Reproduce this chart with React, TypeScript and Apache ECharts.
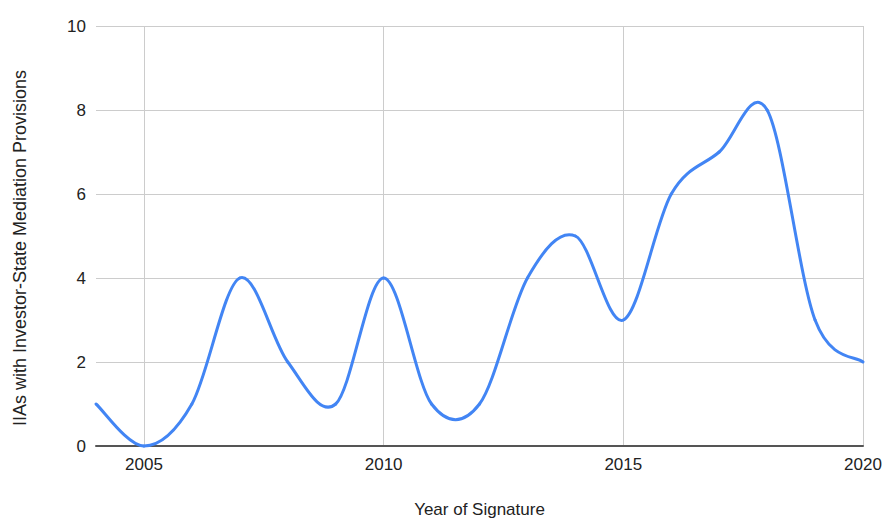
import React, { useEffect, useRef } from "react";
import * as echarts from "echarts";

const years = [2004, 2005, 2006, 2007, 2008, 2009, 2010, 2011, 2012, 2013, 2014, 2015, 2016, 2017, 2018, 2019, 2020];
const counts = [1, 0, 1, 4, 2, 1, 4, 1, 1, 4, 5, 3, 6, 7, 8, 3, 2];
const xTicks = [2005, 2010, 2015, 2020];
const xName = "Year of Signature";
const yName = "IIAs with Investor-State Mediation Provisions";

export default function App() {
  const ref = useRef<HTMLDivElement>(null);
  useEffect(() => {
    const chart = echarts.init(ref.current!, null, { renderer: "svg" });
    const font = "'Liberation Sans', Arial, sans-serif";
    const pts = years.map((y, i) => [y, counts[i]]);
    const n = pts.length;
    chart.setOption({
      animation: false,
      textStyle: { fontFamily: font },
      grid: { left: 96, right: 22, top: 26, bottom: 69, containLabel: false },
      graphic: [
        {
          type: "text",
          x: 20,
          y: 248,
          rotation: Math.PI / 2,
          style: {
            text: yName,
            fill: "#222",
            fontSize: 18,
            fontFamily: font,
            textAlign: "center",
            textVerticalAlign: "middle",
          },
        },
      ],
      xAxis: {
        type: "value",
        min: 2004,
        max: 2020,
        name: xName,
        nameLocation: "middle",
        nameGap: 55,
        nameTextStyle: { color: "#222", fontSize: 17, fontFamily: font },
        axisLine: { show: true, onZero: false, lineStyle: { color: "#555", width: 2 } },
        axisTick: { show: false, customValues: xTicks },
        axisLabel: { customValues: xTicks, color: "#222", fontSize: 17, margin: 10, fontFamily: font, formatter: (v: number) => String(v) },
        splitLine: { show: true, lineStyle: { color: "#ccc", width: 1 } },
      },
      yAxis: {
        type: "value",
        min: 0,
        max: 10,
        interval: 2,
        axisLine: { show: false },
        axisTick: { show: false },
        axisLabel: { color: "#222", fontSize: 17, margin: 10, fontFamily: font },
        splitLine: { show: true, lineStyle: { color: "#ccc", width: 1 } },
      },
      series: [
        {
          type: "custom",
          data: pts,
          encode: { x: 0, y: 1 },
          z: 3,
          renderItem: (params: any, api: any) => {
            const i = params.dataIndex;
            if (i >= n - 1) return null;
            const c = (k: number) => {
              const j = Math.max(0, Math.min(n - 1, k));
              return api.coord(pts[j]);
            };
            const p0 = c(i - 1), p1 = c(i), p2 = c(i + 1), p3 = c(i + 2);
            return {
              type: "bezierCurve",
              shape: {
                x1: p1[0], y1: p1[1],
                cpx1: p1[0] + (p2[0] - p0[0]) / 6,
                cpy1: p1[1] + (p2[1] - p0[1]) / 6,
                cpx2: p2[0] - (p3[0] - p1[0]) / 6,
                cpy2: p2[1] - (p3[1] - p1[1]) / 6,
                x2: p2[0], y2: p2[1],
              },
              style: { stroke: "#4285F4", lineWidth: 3, fill: "none", lineCap: "round" },
            };
          },
        },
      ],
    });
    return () => chart.dispose();
  }, []);
  return <div ref={ref} style={{ width: 885, height: 523, position: "absolute", left: 0, top: 0, background: "#fff" }} />;
}
